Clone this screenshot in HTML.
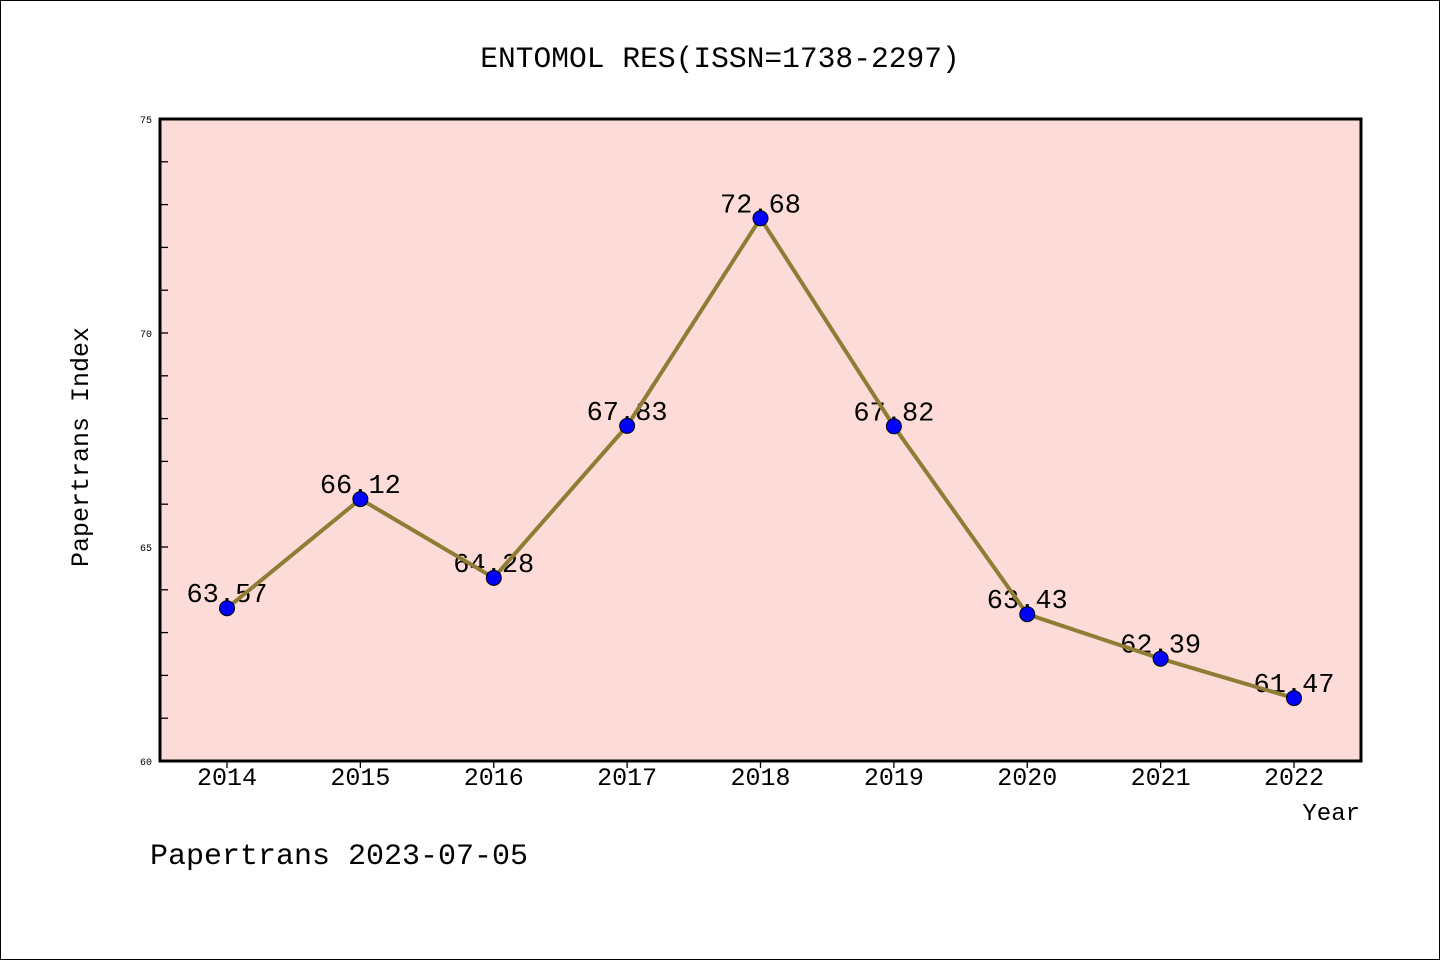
<!DOCTYPE html>
<html><head><meta charset="utf-8"><style>
body{margin:0;background:#fff}
svg text{font-family:"Liberation Mono","DejaVu Sans Mono",monospace;fill:#000}
</style></head><body>
<svg width="1440" height="960" xmlns="http://www.w3.org/2000/svg">
<rect x="0.5" y="0.5" width="1439" height="959" fill="#fff" stroke="#000"/>
<text x="720" y="67" font-size="29.6" text-anchor="middle">ENTOMOL RES(ISSN=1738-2297)</text>
<rect x="160" y="119" width="1201" height="642" fill="#fddbd8"/>
<g id="axes"></g>
<g id="series"></g>
<rect x="160" y="119" width="1201" height="642" fill="none" stroke="#000" stroke-width="3"/>
<text x="88" y="447" font-size="25" text-anchor="middle" transform="rotate(-90 88 447)">Papertrans Index</text>
<text x="1360" y="820" font-size="24" text-anchor="end">Year</text>
<text x="150" y="864" font-size="30">Papertrans 2023-07-05</text>
</svg>
<script>
const years=["2014","2015","2016","2017","2018","2019","2020","2021","2022"];
const values=[63.57,66.12,64.28,67.83,72.68,67.82,63.43,62.39,61.47];
const labels=["63.57","66.12","64.28","67.83","72.68","67.82","63.43","62.39","61.47"];
const yTicks=[60,65,70,75];
const yMin=60,yMax=75;
const NS="http://www.w3.org/2000/svg";
function y(v){return 761-(v-yMin)/(yMax-yMin)*642;}
function x(i){return 227+i*(1294-227)/(years.length-1);}
function mk(t,a,p){const e=document.createElementNS(NS,t);for(const k in a)e.setAttribute(k,a[k]);p.appendChild(e);return e;}
const ax=document.getElementById('axes'),sr=document.getElementById('series');
for(let v=yMin+1;v<yMax;v++){
 const t=mk('line',{x1:160,x2:168,y1:y(v),y2:y(v),stroke:'#000','stroke-width':1.3},ax);
 
 
}
yTicks.forEach(v=>{
 const t=mk('text',{x:152,y:y(v)+4,'font-size':10,'text-anchor':'end'},ax);t.textContent=v;
 
 
});
years.forEach((yr,i)=>{
 const l=mk('line',{x1:x(i),x2:x(i),y1:761,y2:768,stroke:'#000','stroke-width':1.3},ax);
 
 
 const t=mk('text',{x:x(i),y:785,'font-size':25,'text-anchor':'middle'},ax);t.textContent=yr;
 
 
});
values.forEach((v,i)=>{
 const t=mk('text',{x:x(i),y:y(v)-6,'font-size':27,'text-anchor':'middle'},sr);t.textContent=labels[i];
 
 
});
const pl=mk('polyline',{points:values.map((v,i)=>x(i)+','+y(v)).join(' '),fill:'none',stroke:'#8f7d35','stroke-width':4,'stroke-linejoin':'round'},sr);


values.forEach((v,i)=>{
 const c=mk('circle',{cx:x(i),cy:y(v),r:7.5,fill:'#0000ff',stroke:'#000','stroke-width':1},sr);
 
 
});
</script>
</body></html>
